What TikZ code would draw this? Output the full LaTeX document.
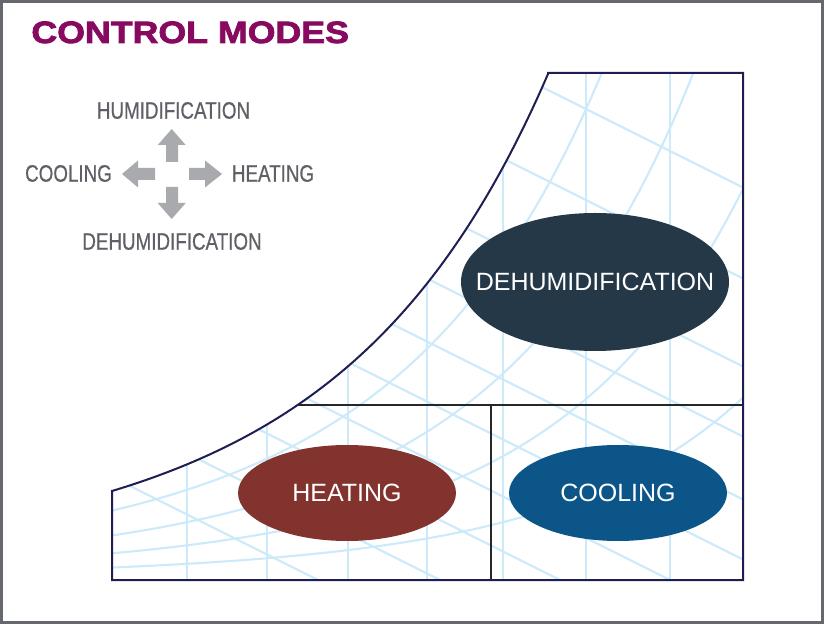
\documentclass[tikz,border=0pt]{standalone}
\usepackage{fontspec}
\setmainfont{Liberation Sans}
\newfontfamily\titlefont[FakeStretch=1.16, BoldFeatures={FakeBold=2.6}]{Liberation Sans}
\newfontfamily\condfont[FakeStretch=0.79, FakeBold=0.6]{Liberation Sans}
\usepackage{xcolor}
\usepackage{tikz}
\usetikzlibrary{shapes.geometric}

\definecolor{titlepurple}{RGB}{135,10,96}
\definecolor{labelgray}{RGB}{94,96,102}
\definecolor{arrowgray}{RGB}{168,170,173}
\definecolor{framegray}{RGB}{101,104,109}
\definecolor{chartnavy}{RGB}{30,30,82}
\definecolor{gridblue}{RGB}{205,234,250}
\definecolor{dehumblue}{RGB}{37,56,72}
\definecolor{heatred}{RGB}{131,51,46}
\definecolor{coolblue}{RGB}{12,85,136}

\begin{document}
\begin{tikzpicture}[x=0.5pt, y=-0.5pt,
    declare function={sat(\x)=89*exp(0.003392*(\x-112)+0.01373*((\x-112)/100)^2);},
    psyline/.style = {draw=gridblue, line width=1.05pt},
    divider/.style = {draw=black!85, line width=1.2pt},
    outline/.style = {draw=chartnavy, line width=1pt},
    mode/.style = {ellipse, text=white, inner sep=0pt, font=\fontsize{12.5}{15}\selectfont},
    dirlabel/.style = {text=labelgray, inner sep=0pt, font=\condfont\fontsize{11.9}{14}\selectfont},
    blockarrow/.style = {fill=arrowgray}]
    \useasboundingbox (0,0) rectangle (824,624);
    \draw[framegray, line width=1.5pt] (1.5,1.5) rectangle (822.5,622.5);

    % 标题
    \node[anchor=base west, inner sep=0pt, text=titlepurple, font=\titlefont\bfseries\fontsize{15.4}{18}\selectfont] (title) at (31,43) {CONTROL MODES};

    % 方向
    \node[dirlabel] (hum) at (173.5,110.5) {HUMIDIFICATION};
    \node[dirlabel] (coolleft) at (68.5,173.5) {COOLING};
    \node[dirlabel] (heatright) at (273,173.5) {HEATING};
    \node[dirlabel] (dehum) at (172,241.5) {DEHUMIDIFICATION};
    \fill[blockarrow] (166,162) -- (178,162) -- (178,145) -- (185.7,145) -- (171.7,129) -- (157.7,145) -- (166,145) -- cycle;
    \fill[blockarrow] (166,187) -- (178,187) -- (178,203) -- (185.7,203) -- (171.7,219) -- (157.7,203) -- (166,203) -- cycle;
    \fill[blockarrow] (155,168) -- (155,180) -- (138,180) -- (138,187.5) -- (122,174) -- (138,160.5) -- (138,168) -- cycle;
    \fill[blockarrow] (189,168) -- (189,180) -- (205,180) -- (205,187.5) -- (222,174) -- (205,160.5) -- (205,168) -- cycle;

    % 网格
    \begin{scope}
        \clip (112,491) -- (112,580) -- (743,580) -- (743,73) -- (548,73)
            -- plot[domain=548:112, samples=80] (\x,{580-sat(\x)}) -- cycle;
        \draw[psyline] (187,60) -- (187,580);
        \draw[psyline] (267,60) -- (267,580);
        \draw[psyline] (348,60) -- (348,580);
        \draw[psyline] (427,60) -- (427,580);
        \draw[psyline] (503,60) -- (503,580);
        \draw[psyline] (586,60) -- (586,580);
        \draw[psyline] (670,60) -- (670,580);
        \draw[psyline] (112,-128) -- (743,187.5);
        \draw[psyline] (112,-37) -- (743,278.5);
        \draw[psyline] (112,51) -- (743,366.5);
        \draw[psyline] (112,121) -- (743,436.5);
        \draw[psyline] (112,184) -- (743,499.5);
        \draw[psyline] (112,244) -- (743,559.5);
        \draw[psyline] (112,301) -- (743,616.5);
        \draw[psyline] (112,356) -- (743,671.5);
        \draw[psyline] (112,416) -- (743,731.5);
        \draw[psyline] (112,477) -- (743,792.5);
        \draw[psyline] plot[domain=112:743, samples=80] (\x,{580-0.78*sat(\x)});
        \draw[psyline] plot[domain=112:743, samples=80] (\x,{580-0.5*sat(\x)});
        \draw[psyline] plot[domain=112:743, samples=80] (\x,{580-0.3*sat(\x)});
        \draw[psyline] plot[domain=112:743, samples=80] (\x,{580-0.14*sat(\x)});
        \draw[divider] (112,405) -- (743,405);
        \draw[divider] (491,405) -- (491,580);
    \end{scope}
    \draw[outline] (112,491) -- (112,580) -- (743,580) -- (743,73) -- (548,73)
        -- plot[domain=548:112, samples=80] (\x,{580-sat(\x)}) -- cycle;

    % 区域
    \node[mode, fill=dehumblue, minimum width=134pt, minimum height=69pt] (dehumzone) at (595,282) {\makebox[0pt]{DEHUMIDIFICATION}};
    \node[mode, fill=heatred, minimum width=109pt, minimum height=48pt] (heatzone) at (347,493) {\makebox[0pt]{HEATING}};
    \node[mode, fill=coolblue, minimum width=109pt, minimum height=48pt] (coolzone) at (618,493) {\makebox[0pt]{COOLING}};
\end{tikzpicture}
\end{document}
